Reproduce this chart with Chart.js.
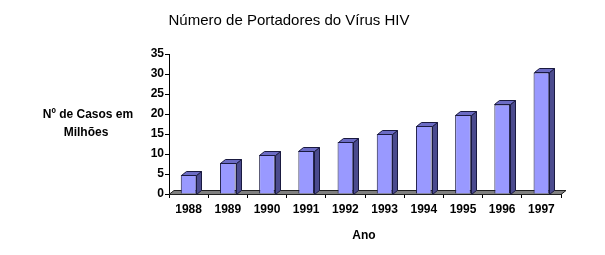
<!DOCTYPE html>
<html>
<head>
<meta charset="utf-8">
<script src="https://cdn.jsdelivr.net/npm/chart.js@4"></script>
<style>
  html, body { margin: 0; padding: 0; background: #fff; }
  #wrap { width: 605px; height: 255px; }
</style>
</head>
<body>
<div id="wrap"><canvas id="grafico"></canvas></div>
<script>
// dados
const anos = ['1988', '1989', '1990', '1991', '1992', '1993', '1994', '1995', '1996', '1997'];
const casos = [4.8, 7.8, 9.8, 10.8, 13, 15, 17, 19.8, 22.4, 30.4];
const tituloEixoY = ['Nº de Casos em', 'Milhões'];
const tituloEixoX = 'Ano';
const tituloGrafico = 'Número de Portadores do Vírus HIV';

// profundidade do efeito 3D (px)
const DX = 5, DY = 4;
const FONTE = '"Liberation Sans", Arial, sans-serif';

// desenha o "chão" cinza e as faces laterais/topo das barras
const efeito3d = {
  id: 'efeito3d',
  beforeDatasetsDraw(chart) {
    const { ctx, chartArea: a, scales: { y } } = chart;
    const y0 = Math.round(y.getPixelForValue(0)) + 0.5;
    ctx.save();
    ctx.fillStyle = '#808080';
    ctx.strokeStyle = '#202020';
    ctx.lineWidth = 1;
    ctx.beginPath();
    ctx.moveTo(a.left, y0);
    ctx.lineTo(a.left + DX, y0 - DY);
    ctx.lineTo(a.right + DX, y0 - DY);
    ctx.lineTo(a.right, y0);
    ctx.closePath();
    ctx.fill();
    ctx.stroke();
    ctx.restore();
  },
  afterDatasetsDraw(chart) {
    const ctx = chart.ctx;
    const meta = chart.getDatasetMeta(0);
    ctx.save();
    ctx.lineWidth = 1;
    ctx.strokeStyle = '#1a1a40';
    meta.data.forEach(bar => {
      const { x, y, base, width } = bar.getProps(['x', 'y', 'base', 'width'], true);
      const l = Math.round(x - width / 2) + 0.5;
      const r = Math.round(x + width / 2) + 0.5;
      const t = Math.round(y) + 0.5;
      const b = Math.round(base) + 0.5;
      // lateral
      ctx.fillStyle = '#4b4b8e';
      ctx.beginPath();
      ctx.moveTo(r, t);
      ctx.lineTo(r + DX, t - DY);
      ctx.lineTo(r + DX, b - DY);
      ctx.lineTo(r, b);
      ctx.closePath();
      ctx.fill();
      ctx.stroke();
      // topo
      ctx.fillStyle = '#6b6bc4';
      ctx.beginPath();
      ctx.moveTo(l, t);
      ctx.lineTo(l + DX, t - DY);
      ctx.lineTo(r + DX, t - DY);
      ctx.lineTo(r, t);
      ctx.closePath();
      ctx.fill();
      ctx.stroke();
    });
    ctx.restore();
  },
  afterDraw(chart) {
    const { ctx } = chart;
    ctx.save();
    ctx.fillStyle = '#000';
    ctx.textAlign = 'center';
    ctx.textBaseline = 'middle';
    ctx.font = '15px ' + FONTE;
    ctx.fillText(tituloGrafico, 289, 21);
    ctx.font = 'bold 12px ' + FONTE;
    ctx.fillText(tituloEixoY[0], 88, 115);
    ctx.fillText(tituloEixoY[1], 86, 133);
    ctx.fillText(tituloEixoX, 364, 236);
    ctx.restore();
  }
};

new Chart(document.getElementById('grafico'), {
  type: 'bar',
  data: {
    labels: anos,
    datasets: [{
      data: casos,
      backgroundColor: '#9999ff',
      borderColor: '#1a1a40',
      borderWidth: 1,
      barPercentage: 0.4,
      categoryPercentage: 1
    }]
  },
  options: {
    responsive: true,
    maintainAspectRatio: false,
    animation: false,
    layout: { padding: { left: 0, right: 44, top: 54, bottom: 0 } },
    plugins: {
      legend: { display: false },
      title: { display: false },
      tooltip: { enabled: false }
    },
    scales: {
      x: {
        afterFit(scale) { scale.height = 61; },
        grid: { offset: true, drawOnChartArea: false, tickLength: 4, color: '#000' },
        border: { display: true, color: '#000' },
        ticks: { color: '#000', padding: 4, font: { family: FONTE, size: 12, weight: 'bold' } }
      },
      y: {
        min: 0,
        max: 35,
        afterFit(scale) { scale.width = 169; },
        grid: { drawOnChartArea: false, tickLength: 4, color: '#000' },
        border: { display: true, color: '#000' },
        ticks: { stepSize: 5, color: '#000', padding: 1, font: { family: FONTE, size: 12, weight: 'bold' } }
      }
    }
  },
  plugins: [efeito3d]
});
</script>
</body>
</html>
